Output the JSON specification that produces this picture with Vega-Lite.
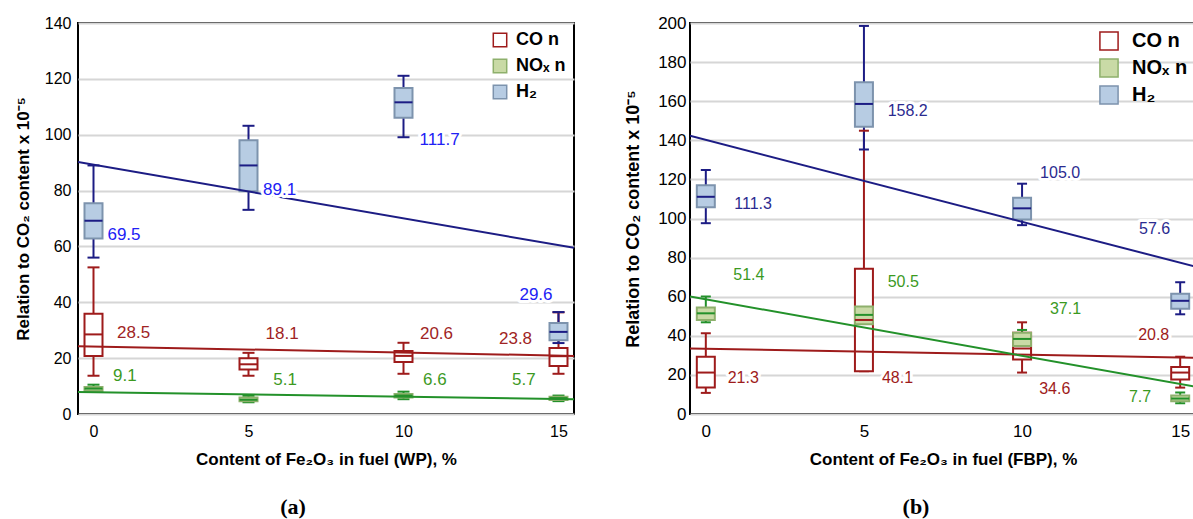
{
  "$schema": "https://vega.github.io/schema/vega-lite/v6.json",
  "padding": {"left": 13, "top": 13, "right": 0, "bottom": 0},
  "background": "white",
  "spacing": 48,
  "datasets": {
    "boxA": [
      {"series": "CO n", "x": 0, "lo": 13.7, "q1": 20.8, "med": 28.5, "q3": 35.9, "hi": 52.5},
      {"series": "CO n", "x": 5, "lo": 13.7, "q1": 15.9, "med": 17.8, "q3": 20.0, "hi": 21.9},
      {"series": "CO n", "x": 10, "lo": 14.4, "q1": 18.6, "med": 20.8, "q3": 22.6, "hi": 25.5},
      {"series": "CO n", "x": 15, "lo": 14.4, "q1": 17.2, "med": 20.7, "q3": 23.6, "hi": 36.4},
      {"series": "NOₓ n", "x": 0, "lo": 7.9, "q1": 8.2, "med": 9.1, "q3": 9.7, "hi": 10.5},
      {"series": "NOₓ n", "x": 5, "lo": 4.2, "q1": 4.6, "med": 5.1, "q3": 5.9, "hi": 6.5},
      {"series": "NOₓ n", "x": 10, "lo": 5.3, "q1": 5.9, "med": 6.6, "q3": 7.2, "hi": 8.0},
      {"series": "NOₓ n", "x": 15, "lo": 4.6, "q1": 5.0, "med": 5.7, "q3": 6.2, "hi": 6.6},
      {"series": "H₂", "x": 0, "lo": 56.0, "q1": 62.8, "med": 69.2, "q3": 75.5, "hi": 89.0},
      {"series": "H₂", "x": 5, "lo": 73.1, "q1": 79.8, "med": 89.0, "q3": 98.0, "hi": 103.2},
      {"series": "H₂", "x": 10, "lo": 99.1, "q1": 106.1, "med": 111.6, "q3": 116.7, "hi": 121.1},
      {"series": "H₂", "x": 15, "lo": 25.4, "q1": 26.4, "med": 29.4, "q3": 32.6, "hi": 36.5}
    ],
    "lineA": [
      {"series": "CO n", "x": -0.5, "y": 24.3},
      {"series": "CO n", "x": 15.5, "y": 20.8},
      {"series": "NOₓ n", "x": -0.5, "y": 7.9},
      {"series": "NOₓ n", "x": 15.5, "y": 5.3},
      {"series": "H₂", "x": -0.5, "y": 90.2},
      {"series": "H₂", "x": 15.5, "y": 59.5}
    ],
    "labA": [
      {"series": "CO n", "x": 0.76, "y": 29.0, "label": "28.5"},
      {"series": "CO n", "x": 5.55, "y": 28.8, "label": "18.1"},
      {"series": "CO n", "x": 10.53, "y": 28.8, "label": "20.6"},
      {"series": "CO n", "x": 13.08, "y": 26.7, "label": "23.8"},
      {"series": "NOₓ n", "x": 0.63, "y": 13.5, "label": "9.1"},
      {"series": "NOₓ n", "x": 5.8, "y": 12.3, "label": "5.1"},
      {"series": "NOₓ n", "x": 10.63, "y": 12.3, "label": "6.6"},
      {"series": "NOₓ n", "x": 13.5, "y": 12.3, "label": "5.7"},
      {"series": "H₂", "x": 0.45, "y": 64.0, "label": "69.5"},
      {"series": "H₂", "x": 5.47, "y": 80.2, "label": "89.1"},
      {"series": "H₂", "x": 10.52, "y": 98.2, "label": "111.7"},
      {"series": "H₂", "x": 13.74, "y": 42.5, "label": "29.6"}
    ],
    "boxB": [
      {"series": "CO n", "x": 0, "lo": 10.8, "q1": 13.5, "med": 21.2, "q3": 29.3, "hi": 41.3},
      {"series": "CO n", "x": 5, "lo": 21.9, "q1": 21.9, "med": 48.1, "q3": 74.3, "hi": 144.9},
      {"series": "CO n", "x": 10, "lo": 21.2, "q1": 27.9, "med": 33.5, "q3": 41.6, "hi": 46.9},
      {"series": "CO n", "x": 15, "lo": 13.5, "q1": 17.6, "med": 21.2, "q3": 24.1, "hi": 29.3},
      {"series": "NOₓ n", "x": 0, "lo": 46.9, "q1": 48.1, "med": 51.5, "q3": 54.5, "hi": 60.1},
      {"series": "NOₓ n", "x": 5, "lo": 43.3, "q1": 45.9, "med": 50.7, "q3": 55.0, "hi": 63.9},
      {"series": "NOₓ n", "x": 10, "lo": 32.2, "q1": 34.8, "med": 38.4, "q3": 41.6, "hi": 43.0},
      {"series": "NOₓ n", "x": 15, "lo": 5.5, "q1": 6.5, "med": 7.9, "q3": 9.5, "hi": 11.0},
      {"series": "H₂", "x": 0, "lo": 97.6, "q1": 105.8, "med": 111.1, "q3": 117.0, "hi": 124.8},
      {"series": "H₂", "x": 5, "lo": 135.3, "q1": 146.9, "med": 158.6, "q3": 169.7, "hi": 198.5},
      {"series": "H₂", "x": 10, "lo": 96.6, "q1": 99.5, "med": 105.2, "q3": 110.6, "hi": 117.8},
      {"series": "H₂", "x": 15, "lo": 51.0, "q1": 53.8, "med": 57.9, "q3": 61.5, "hi": 67.4}
    ],
    "lineB": [
      {"series": "CO n", "x": -0.5, "y": 33.5},
      {"series": "CO n", "x": 15.5, "y": 28.8},
      {"series": "NOₓ n", "x": -0.5, "y": 60.1},
      {"series": "NOₓ n", "x": 15.5, "y": 13.9},
      {"series": "H₂", "x": -0.5, "y": 142.3},
      {"series": "H₂", "x": 15.5, "y": 75.3}
    ],
    "labB": [
      {"series": "CO n", "x": 0.69, "y": 18.5, "label": "21.3"},
      {"series": "CO n", "x": 5.57, "y": 18.5, "label": "48.1"},
      {"series": "CO n", "x": 10.54, "y": 12.7, "label": "34.6"},
      {"series": "CO n", "x": 13.67, "y": 40.4, "label": "20.8"},
      {"series": "NOₓ n", "x": 0.87, "y": 70.9, "label": "51.4"},
      {"series": "NOₓ n", "x": 5.75, "y": 67.5, "label": "50.5"},
      {"series": "NOₓ n", "x": 10.88, "y": 53.8, "label": "37.1"},
      {"series": "NOₓ n", "x": 13.38, "y": 8.7, "label": "7.7"},
      {"series": "H₂", "x": 0.9, "y": 107.2, "label": "111.3"},
      {"series": "H₂", "x": 5.75, "y": 155.0, "label": "158.2"},
      {"series": "H₂", "x": 10.57, "y": 123.1, "label": "105.0"},
      {"series": "H₂", "x": 13.7, "y": 94.4, "label": "57.6"}
    ]
  },
  "hconcat": [
    {
      "width": 496,
      "height": 391,
      "title": {"text": "(a)", "orient": "bottom", "font": "Liberation Serif", "fontSize": 22, "fontWeight": "bold", "color": "black", "offset": 30, "dx": -33, "anchor": "middle"},
      "encoding": {
        "x": {"field": "x", "type": "quantitative", "scale": {"domain": [-0.5, 15.5], "nice": false, "zero": false},
              "axis": {"values": [0, 5, 10, 15], "title": "Content of Fe₂O₃ in fuel (WP), %"}}
      },
      "resolve": {"scale": {"color": "independent"}},
      "layer": [
        {
          "data": {"name": "boxA"},
          "mark": {"type": "rule", "strokeWidth": 2},
          "encoding": {
            "y": {"field": "lo", "type": "quantitative", "scale": {"domain": [0, 140], "nice": false}, "title": "Relation to CO₂ content x 10⁻⁵",
                  "axis": {"values": [0, 20, 40, 60, 80, 100, 120, 140], "labelOverlap": false, "titleFontSize": 17, "labelPadding": 7, "titlePadding": 12}},
            "y2": {"field": "hi"},
            "color": {"field": "series", "type": "nominal", "scale": {"domain": ["CO n", "NOₓ n", "H₂"], "range": ["#9e1b1b", "#23912a", "#1c1c84"]}, "legend": null}
          }
        },
        {
          "data": {"name": "boxA"},
          "mark": {"type": "rule", "strokeWidth": 2, "xOffset": -6, "x2Offset": 6},
          "encoding": {
            "x2": {"field": "x"},
            "y": {"field": "lo", "type": "quantitative", "scale": {"domain": [0, 140], "nice": false}, "title": "Relation to CO₂ content x 10⁻⁵",
                  "axis": {"values": [0, 20, 40, 60, 80, 100, 120, 140], "labelOverlap": false, "titleFontSize": 17, "labelPadding": 7, "titlePadding": 12}},
            "color": {"field": "series", "type": "nominal", "scale": {"domain": ["CO n", "NOₓ n", "H₂"], "range": ["#9e1b1b", "#23912a", "#1c1c84"]}, "legend": null}
          }
        },
        {
          "data": {"name": "boxA"},
          "mark": {"type": "rule", "strokeWidth": 2, "xOffset": -6, "x2Offset": 6},
          "encoding": {
            "x2": {"field": "x"},
            "y": {"field": "hi", "type": "quantitative", "scale": {"domain": [0, 140], "nice": false}, "title": "Relation to CO₂ content x 10⁻⁵",
                  "axis": {"values": [0, 20, 40, 60, 80, 100, 120, 140], "labelOverlap": false, "titleFontSize": 17, "labelPadding": 7, "titlePadding": 12}},
            "color": {"field": "series", "type": "nominal", "scale": {"domain": ["CO n", "NOₓ n", "H₂"], "range": ["#9e1b1b", "#23912a", "#1c1c84"]}, "legend": null}
          }
        },
        {
          "data": {"name": "boxA"},
          "mark": {"type": "rect", "xOffset": -9, "x2Offset": 9, "strokeWidth": 2},
          "encoding": {
            "x2": {"field": "x"},
            "y": {"field": "q1", "type": "quantitative", "scale": {"domain": [0, 140], "nice": false}, "title": "Relation to CO₂ content x 10⁻⁵",
                  "axis": {"values": [0, 20, 40, 60, 80, 100, 120, 140], "labelOverlap": false, "titleFontSize": 17, "labelPadding": 7, "titlePadding": 12}},
            "y2": {"field": "q3"},
            "fill": {"field": "series", "type": "nominal", "scale": {"domain": ["CO n", "NOₓ n", "H₂"], "range": ["#ffffff", "#c9daa6", "#b7cce3"]},
                     "legend": {"title": null, "orient": "top-right", "offset": 8, "labelFontSize": 18, "labelFontWeight": "bold", "labelColor": "black", "symbolType": "square", "symbolSize": 180, "symbolStrokeWidth": 1.5, "rowPadding": 6, "labelOffset": 7, "padding": 0}},
            "stroke": {"field": "series", "type": "nominal", "scale": {"domain": ["CO n", "NOₓ n", "H₂"], "range": ["#9e1b1b", "#8eb06c", "#7d93ad"]},
                     "legend": {"title": null, "orient": "top-right", "offset": 8, "labelFontSize": 18, "labelFontWeight": "bold", "labelColor": "black", "symbolType": "square", "symbolSize": 180, "symbolStrokeWidth": 1.5, "rowPadding": 6, "labelOffset": 7, "padding": 0}}
          }
        },
        {
          "data": {"name": "boxA"},
          "mark": {"type": "rule", "strokeWidth": 2, "xOffset": -9, "x2Offset": 9},
          "encoding": {
            "x2": {"field": "x"},
            "y": {"field": "med", "type": "quantitative", "scale": {"domain": [0, 140], "nice": false}, "title": "Relation to CO₂ content x 10⁻⁵",
                  "axis": {"values": [0, 20, 40, 60, 80, 100, 120, 140], "labelOverlap": false, "titleFontSize": 17, "labelPadding": 7, "titlePadding": 12}},
            "color": {"field": "series", "type": "nominal", "scale": {"domain": ["CO n", "NOₓ n", "H₂"], "range": ["#9e1b1b", "#23912a", "#1c1c84"]}, "legend": null}
          }
        },
        {
          "data": {"name": "lineA"},
          "mark": {"type": "line", "strokeWidth": 2, "clip": true},
          "encoding": {
            "y": {"field": "y", "type": "quantitative", "scale": {"domain": [0, 140], "nice": false}, "title": "Relation to CO₂ content x 10⁻⁵",
                  "axis": {"values": [0, 20, 40, 60, 80, 100, 120, 140], "labelOverlap": false, "titleFontSize": 17, "labelPadding": 7, "titlePadding": 12}},
            "color": {"field": "series", "type": "nominal", "scale": {"domain": ["CO n", "NOₓ n", "H₂"], "range": ["#9e1b1b", "#23912a", "#1c1c84"]}, "legend": null}
          }
        },
        {
          "data": {"name": "labA"},
          "mark": {"type": "text", "align": "left", "baseline": "middle", "fontSize": 17, "fill": "white", "stroke": "white", "strokeWidth": 6, "strokeJoin": "round"},
          "encoding": {
            "y": {"field": "y", "type": "quantitative", "scale": {"domain": [0, 140], "nice": false}, "title": "Relation to CO₂ content x 10⁻⁵",
                  "axis": {"values": [0, 20, 40, 60, 80, 100, 120, 140], "labelOverlap": false, "titleFontSize": 17, "labelPadding": 7, "titlePadding": 12}},
            "text": {"field": "label"}
          }
        },
        {
          "data": {"name": "labA"},
          "mark": {"type": "text", "align": "left", "baseline": "middle", "fontSize": 17},
          "encoding": {
            "y": {"field": "y", "type": "quantitative", "scale": {"domain": [0, 140], "nice": false}, "title": "Relation to CO₂ content x 10⁻⁵",
                  "axis": {"values": [0, 20, 40, 60, 80, 100, 120, 140], "labelOverlap": false, "titleFontSize": 17, "labelPadding": 7, "titlePadding": 12}},
            "text": {"field": "label"},
            "color": {"field": "series", "type": "nominal", "scale": {"domain": ["CO n", "NOₓ n", "H₂"], "range": ["#a02424", "#3d9a1f", "#2121f5"]}, "legend": null}
          }
        }
      ]
    },
    {
      "width": 506,
      "height": 391,
      "title": {"text": "(b)", "orient": "bottom", "font": "Liberation Serif", "fontSize": 22, "fontWeight": "bold", "color": "black", "offset": 30, "dx": -27, "anchor": "middle"},
      "encoding": {
        "x": {"field": "x", "type": "quantitative", "scale": {"domain": [-0.5, 15.5], "nice": false, "zero": false},
              "axis": {"values": [0, 5, 10, 15], "title": "Content of Fe₂O₃ in fuel (FBP), %", "labelFontSize": 17}}
      },
      "resolve": {"scale": {"color": "independent"}},
      "layer": [
        {
          "data": {"name": "boxB"},
          "mark": {"type": "rule", "strokeWidth": 2},
          "encoding": {
            "y": {"field": "lo", "type": "quantitative", "scale": {"domain": [0, 200], "nice": false}, "title": "Relation to CO₂ content x 10⁻⁵",
                  "axis": {"values": [0, 20, 40, 60, 80, 100, 120, 140, 160, 180, 200], "labelOverlap": false, "titleFontSize": 18, "labelFontSize": 17, "labelPadding": 4, "titlePadding": 15}},
            "y2": {"field": "hi"},
            "color": {"field": "series", "type": "nominal", "scale": {"domain": ["CO n", "NOₓ n", "H₂"], "range": ["#9e1b1b", "#23912a", "#1c1c84"]}, "legend": null}
          }
        },
        {
          "data": {"name": "boxB"},
          "mark": {"type": "rule", "strokeWidth": 2, "xOffset": -5, "x2Offset": 5},
          "encoding": {
            "x2": {"field": "x"},
            "y": {"field": "lo", "type": "quantitative", "scale": {"domain": [0, 200], "nice": false}, "title": "Relation to CO₂ content x 10⁻⁵",
                  "axis": {"values": [0, 20, 40, 60, 80, 100, 120, 140, 160, 180, 200], "labelOverlap": false, "titleFontSize": 18, "labelFontSize": 17, "labelPadding": 4, "titlePadding": 15}},
            "color": {"field": "series", "type": "nominal", "scale": {"domain": ["CO n", "NOₓ n", "H₂"], "range": ["#9e1b1b", "#23912a", "#1c1c84"]}, "legend": null}
          }
        },
        {
          "data": {"name": "boxB"},
          "mark": {"type": "rule", "strokeWidth": 2, "xOffset": -5, "x2Offset": 5},
          "encoding": {
            "x2": {"field": "x"},
            "y": {"field": "hi", "type": "quantitative", "scale": {"domain": [0, 200], "nice": false}, "title": "Relation to CO₂ content x 10⁻⁵",
                  "axis": {"values": [0, 20, 40, 60, 80, 100, 120, 140, 160, 180, 200], "labelOverlap": false, "titleFontSize": 18, "labelFontSize": 17, "labelPadding": 4, "titlePadding": 15}},
            "color": {"field": "series", "type": "nominal", "scale": {"domain": ["CO n", "NOₓ n", "H₂"], "range": ["#9e1b1b", "#23912a", "#1c1c84"]}, "legend": null}
          }
        },
        {
          "data": {"name": "boxB"},
          "mark": {"type": "rect", "xOffset": -9, "x2Offset": 9, "strokeWidth": 2},
          "encoding": {
            "x2": {"field": "x"},
            "y": {"field": "q1", "type": "quantitative", "scale": {"domain": [0, 200], "nice": false}, "title": "Relation to CO₂ content x 10⁻⁵",
                  "axis": {"values": [0, 20, 40, 60, 80, 100, 120, 140, 160, 180, 200], "labelOverlap": false, "titleFontSize": 18, "labelFontSize": 17, "labelPadding": 4, "titlePadding": 15}},
            "y2": {"field": "q3"},
            "fill": {"field": "series", "type": "nominal", "scale": {"domain": ["CO n", "NOₓ n", "H₂"], "range": ["#ffffff", "#c9daa6", "#b7cce3"]},
                     "legend": {"title": null, "orient": "top-right", "offset": 8, "labelFontSize": 20, "labelFontWeight": "bold", "labelColor": "black", "symbolType": "square", "symbolSize": 330, "symbolStrokeWidth": 1.5, "rowPadding": 1, "labelOffset": 13, "padding": 0}},
            "stroke": {"field": "series", "type": "nominal", "scale": {"domain": ["CO n", "NOₓ n", "H₂"], "range": ["#9e1b1b", "#8eb06c", "#7d93ad"]},
                     "legend": {"title": null, "orient": "top-right", "offset": 8, "labelFontSize": 20, "labelFontWeight": "bold", "labelColor": "black", "symbolType": "square", "symbolSize": 330, "symbolStrokeWidth": 1.5, "rowPadding": 1, "labelOffset": 13, "padding": 0}}
          }
        },
        {
          "data": {"name": "boxB"},
          "mark": {"type": "rule", "strokeWidth": 2, "xOffset": -9, "x2Offset": 9},
          "encoding": {
            "x2": {"field": "x"},
            "y": {"field": "med", "type": "quantitative", "scale": {"domain": [0, 200], "nice": false}, "title": "Relation to CO₂ content x 10⁻⁵",
                  "axis": {"values": [0, 20, 40, 60, 80, 100, 120, 140, 160, 180, 200], "labelOverlap": false, "titleFontSize": 18, "labelFontSize": 17, "labelPadding": 4, "titlePadding": 15}},
            "color": {"field": "series", "type": "nominal", "scale": {"domain": ["CO n", "NOₓ n", "H₂"], "range": ["#9e1b1b", "#23912a", "#1c1c84"]}, "legend": null}
          }
        },
        {
          "data": {"name": "lineB"},
          "mark": {"type": "line", "strokeWidth": 2, "clip": true},
          "encoding": {
            "y": {"field": "y", "type": "quantitative", "scale": {"domain": [0, 200], "nice": false}, "title": "Relation to CO₂ content x 10⁻⁵",
                  "axis": {"values": [0, 20, 40, 60, 80, 100, 120, 140, 160, 180, 200], "labelOverlap": false, "titleFontSize": 18, "labelFontSize": 17, "labelPadding": 4, "titlePadding": 15}},
            "color": {"field": "series", "type": "nominal", "scale": {"domain": ["CO n", "NOₓ n", "H₂"], "range": ["#9e1b1b", "#23912a", "#1c1c84"]}, "legend": null}
          }
        },
        {
          "data": {"name": "labB"},
          "mark": {"type": "text", "align": "left", "baseline": "middle", "fontSize": 16, "fill": "white", "stroke": "white", "strokeWidth": 6, "strokeJoin": "round"},
          "encoding": {
            "y": {"field": "y", "type": "quantitative", "scale": {"domain": [0, 200], "nice": false}, "title": "Relation to CO₂ content x 10⁻⁵",
                  "axis": {"values": [0, 20, 40, 60, 80, 100, 120, 140, 160, 180, 200], "labelOverlap": false, "titleFontSize": 18, "labelFontSize": 17, "labelPadding": 4, "titlePadding": 15}},
            "text": {"field": "label"}
          }
        },
        {
          "data": {"name": "labB"},
          "mark": {"type": "text", "align": "left", "baseline": "middle", "fontSize": 16},
          "encoding": {
            "y": {"field": "y", "type": "quantitative", "scale": {"domain": [0, 200], "nice": false}, "title": "Relation to CO₂ content x 10⁻⁵",
                  "axis": {"values": [0, 20, 40, 60, 80, 100, 120, 140, 160, 180, 200], "labelOverlap": false, "titleFontSize": 18, "labelFontSize": 17, "labelPadding": 4, "titlePadding": 15}},
            "text": {"field": "label"},
            "color": {"field": "series", "type": "nominal", "scale": {"domain": ["CO n", "NOₓ n", "H₂"], "range": ["#9e1b1b", "#3b9a1f", "#2b2b90"]}, "legend": null}
          }
        }
      ]
    }
  ],
  "resolve": {
    "scale": {"fill": "independent", "stroke": "independent", "color": "independent"},
    "legend": {"fill": "independent", "stroke": "independent"}
  },
  "config": {
    "font": "Liberation Sans",
    "view": {"stroke": "black", "strokeWidth": 2},
    "axis": {"labelFont": "Liberation Sans", "titleFont": "Liberation Sans", "labelFontSize": 16, "labelColor": "black", "titleColor": "black", "titleFontSize": 17, "titleFontWeight": "bold", "ticks": false, "domain": false, "labelOverlap": false},
    "axisX": {"grid": false, "labelPadding": 9, "titlePadding": 12},
    "axisY": {"grid": true, "gridColor": "#d6d6d6", "gridWidth": 2},
    "legend": {"labelFont": "Liberation Sans"}
  }
}
